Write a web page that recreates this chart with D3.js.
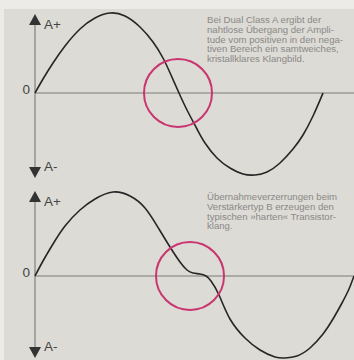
<!DOCTYPE html>
<html>
<head>
<meta charset="utf-8">
<script src="https://cdn.jsdelivr.net/npm/d3@7"></script>
<style>
  html, body { margin: 0; padding: 0; background: #ecebe7; }
  svg { display: block; }
</style>
</head>
<body>
<svg id="chart"></svg>
<script>
// Phase (px from the amplitude axis) and amplitude
const classAPhase = [0, 8, 18, 30, 45, 60, 75, 90, 105, 118, 128, 136, 144, 152, 162, 170, 182, 195, 208, 220, 232, 245, 258, 268, 278, 288];
const classAAmp   = [0, 14, 30, 47, 64, 75, 80, 77, 66, 51, 35, 18, 0, -17, -36, -50, -65, -75, -81, -82, -79, -70, -56, -42, -23, 0];

const classBPhase = [0, 8, 18, 30, 45, 60, 78, 95, 110, 124, 135, 145, 152, 158, 165, 171, 176, 184, 195, 210, 225, 240, 250, 262, 275, 288, 298, 307, 314, 319];
const classBAmp   = [0, 15, 32, 50, 66, 77, 84, 80, 68, 47, 29, 14, 6, 3, 2, 0, -5, -19, -43, -62, -74, -81, -82, -80, -72, -58, -43, -27, -13, 0];

// Where the crossover is marked (phase)
const markPhase = [143, 155];

const captions = [
  ['Bei Dual Class A ergibt der',
   'nahtlose Übergang der Ampli-',
   'tude vom positiven in den nega-',
   'tiven Bereich ein samtweiches,',
   'kristallklares Klangbild.'],
  ['Übernahmeverzerrungen beim',
   'Verstärkertyp B erzeugen den',
   'typischen »harten« Transistor-',
   'klang.']
];

const width = 354, height = 360;
const svg = d3.select('#chart').attr('width', width).attr('height', height);

// page background: lighter margin at top/left, grey panel
svg.append('rect').attr('width', width).attr('height', height).attr('fill', '#ecebe7');
svg.append('rect').attr('x', 4).attr('y', 9).attr('width', width - 4).attr('height', height - 9).attr('fill', '#dddbd6');

const x = d3.scaleLinear().domain([0, 320]).range([35, 355]);

const panels = [
  { phase: classAPhase, amp: classAAmp, zeroY: 93, axisTop: 79, axisBot: -85, mark: markPhase[0], caption: captions[0], capY: 23 },
  { phase: classBPhase, amp: classBAmp, zeroY: 276, axisTop: 85, axisBot: -82, mark: markPhase[1], caption: captions[1], capY: 200 }
];

panels.forEach(p => {
  const y = d3.scaleLinear().domain([-90, 90]).range([p.zeroY + 90, p.zeroY - 90]);
  const g = svg.append('g');

  // zero line
  g.append('line')
    .attr('x1', x(0)).attr('x2', width)
    .attr('y1', y(0)).attr('y2', y(0))
    .attr('stroke', '#7a7a78').attr('stroke-width', 1);

  // amplitude axis with arrows
  g.append('line')
    .attr('x1', x(0)).attr('x2', x(0))
    .attr('y1', y(p.axisTop) + 8).attr('y2', y(p.axisBot) - 8)
    .attr('stroke', '#6e6e6c').attr('stroke-width', 1);

  const ax = x(0);
  g.append('path')
    .attr('d', `M${ax},${y(p.axisTop)} L${ax - 6},${y(p.axisTop) + 11} L${ax + 6},${y(p.axisTop) + 11} Z`)
    .attr('fill', '#333');
  g.append('path')
    .attr('d', `M${ax},${y(p.axisBot)} L${ax - 6},${y(p.axisBot) - 11} L${ax + 6},${y(p.axisBot) - 11} Z`)
    .attr('fill', '#333');

  const lbl = { 'font-family': 'Liberation Sans, Arial, sans-serif', 'font-size': 13.5, fill: '#444' };
  const t1 = g.append('text').attr('x', ax + 9).attr('y', y(p.axisTop) + 15).text('A+');
  const t2 = g.append('text').attr('x', ax + 9).attr('y', y(p.axisBot) - 7).text('A-');
  const t3 = g.append('text').attr('x', ax - 5).attr('y', y(0) + 1).attr('text-anchor', 'end').text('0');
  [t1, t2, t3].forEach(t => Object.entries(lbl).forEach(([k, v]) => t.attr(k, v)));

  // waveform
  const pts = p.phase.map((d, i) => [d, p.amp[i]]);
  g.append('path')
    .datum(pts)
    .attr('d', d3.line().x(d => x(d[0])).y(d => y(d[1])).curve(d3.curveNatural))
    .attr('fill', 'none')
    .attr('stroke', '#262626')
    .attr('stroke-width', 1.6);

  // crossover marker
  g.append('circle')
    .attr('cx', x(p.mark)).attr('cy', y(0))
    .attr('r', 34)
    .attr('fill', 'none')
    .attr('stroke', '#c9356f')
    .attr('stroke-width', 2);

  // caption
  const cap = g.append('text')
    .attr('font-family', 'Liberation Sans, Arial, sans-serif')
    .attr('font-size', 9.6)
    .attr('fill', '#8a8986');
  p.caption.forEach((line, i) => {
    cap.append('tspan').attr('x', 207).attr('y', p.capY + i * 9.8).text(line);
  });
});
</script>
</body>
</html>
